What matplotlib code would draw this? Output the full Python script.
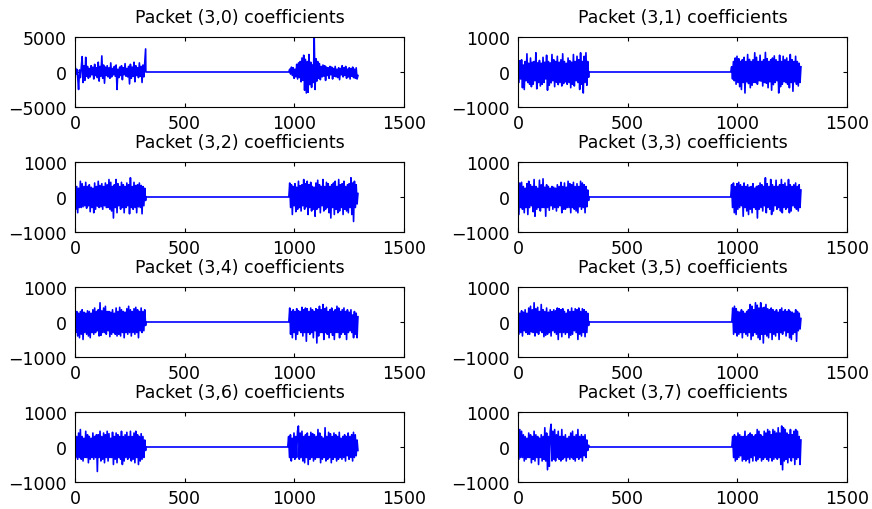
import numpy as np
import matplotlib
matplotlib.use("Agg")
import matplotlib.pyplot as plt

plt.rcParams['font.family'] = ['DejaVu Sans']

# panel titles, in subplot order
titles = ['Packet (3,0) coefficients', 'Packet (3,1) coefficients',
          'Packet (3,2) coefficients', 'Packet (3,3) coefficients',
          'Packet (3,4) coefficients', 'Packet (3,5) coefficients',
          'Packet (3,6) coefficients', 'Packet (3,7) coefficients']

# sample ranges of the two non-zero bursts
burst_a = [(0, 322)] * 8
burst_b = [(975, 1290), (970, 1290), (975, 1290), (970, 1290),
           (975, 1290), (975, 1290), (970, 1290), (975, 1290)]

# coefficient values, roughly sampled across each burst
a0 = [1200, -300, 400, -700, -2500, 300, -800, 600, 2200, -1500, 900, -1200, 2100, -600, 800, -900,
      500, -700, 900, -400, 700, -1000, 1100, -500, 600, -800, 1400, -1300, 800, -600, 2300, -900,
      1000, -1600, 700, -500, 900, -700, 600, -900, 1300, -700, 500, -400, 800, -600, 1000, -2500,
      400, -800, 700, -500, 900, -1100, 600, -400, 1200, -600, 500, -700, 800, -1700, 1100, -900,
      700, -600, 1400, -1400, 900, -500, 600, -800, 1300, -600, 800, -1500, 1000, -700, 1300, 3300]
b0 = [0, 400, -300, 700, -500, 600, -900, 400, -700, 1100, -1000, 1300, -800, 1500, -1400, 2000,
      -1200, 2400, -2600, 1800, -3000, 1500, -2900, 2500, -1800, 1400, -2200, 1000, -1500, 5000, -2500, 1900,
      -1300, 1500, -900, 1200, -1100, 800, -700, 1000, -600, 900, -1200, 700, -500, 600, -900, 800,
      -400, 700, -1000, 500, -600, 800, -700, 400, -800, 600, -1100, 500, -400, 900, -700, 600,
      -500, 800, -900, 400, -700, 600, -1000, 500, -600, 700, -800, 400, -900, 600, -1000, -500]

a1 = [250, -300, 320, -200, 350, -450, 200, -500, 300, -250, 520, -300, 250, -350, 400, -420,
      280, -350, 300, -250, 550, -480, 260, -300, 330, -400, 250, -350, 420, -300, 280, -200,
      480, -520, 300, -380, 260, -310, 500, -250, 350, -420, 300, -290, 450, -360, 280, -300,
      350, -400, 520, -330, 300, -280, 250, -350, 400, -300, 320, -450, 280, -350, 500, -400,
      300, -250, 450, -300, 350, -500, 550, -350, 300, -600, 450, -300, 550, -380, 300, -150]
b1 = [0, 150, -200, 300, -250, 400, -350, 450, -300, 380, -420, 300, -500, 350, -300, 420,
      -600, 300, -280, 500, -330, 360, -450, 300, -380, 350, -300, 550, -300, 420, -350, 300,
      -250, 480, -260, 300, -400, 350, -300, 560, -320, 380, -450, 300, -280, 350, -520, 400,
      -360, 460, -300, 350, -250, 300, -600, 480, -420, 300, -350, 450, -280, 350, -300, 400,
      -350, 300, -450, 500, -300, 350, -550, 300, -280, 450, -350, 300, -400, 250, -300, 150]

a2 = [400, -350, 300, -450, 250, -300, 450, -300, 380, -280, 300, -250, 420, -320, 300, -250,
      350, -420, 280, -300, 250, -450, 400, -350, 300, -260, 450, -300, 330, -280, 380, -350,
      300, -250, 400, -300, 350, -300, 500, -350, 420, -400, 300, -600, 350, -300, 500, -450,
      380, -250, 300, -350, 420, -300, 350, -450, 300, -300, 400, -250, 350, -480, 550, -300,
      300, -350, 420, -300, 330, -450, 350, -280, 400, -300, 330, -480, 300, -250, 250, -100]
b2 = [0, 400, -300, 350, -500, 300, -250, 380, -420, 280, -350, 450, -300, 320, -400, 350,
      -250, 500, -350, 380, -280, 450, -500, 350, -300, 420, -400, 300, -350, 280, -550, 400,
      -350, 480, -300, 350, -450, 300, -250, 500, -400, 300, -350, 420, -300, 380, -450, 300,
      -600, 350, -300, 400, -500, 450, -350, 300, -450, 500, -400, 350, -300, 380, -500, 450,
      -350, 300, -400, 350, -450, 380, -300, 550, -500, 400, -700, 450, -300, 350, -200, 100]

a3 = [450, -500, 400, -300, 420, -350, 300, -450, 250, -300, 380, -500, 450, -300, 350, -250,
      300, -420, 500, -550, 300, -350, 250, -300, 480, -400, 350, -300, 520, -300, 280, -550,
      350, -300, 300, -380, 250, -250, 300, -350, 280, -300, 250, -400, 350, -300, 300, -250,
      420, -450, 300, -350, 400, -350, 280, -300, 450, -300, 380, -450, 350, -300, 420, -350,
      300, -400, 380, -450, 300, -280, 450, -350, 400, -300, 350, -450, 300, -280, 200, -100]
b3 = [0, 350, -300, 400, -450, 300, -500, 380, -350, 420, -300, 350, -250, 300, -550, 400,
      -300, 300, -400, 350, -500, 280, -350, 300, -450, 380, -300, 250, -350, 300, -600, 320,
      -350, 400, -300, 350, -400, 300, -250, 550, -450, 380, -300, 300, -350, 500, -500, 350,
      -400, 300, -250, 480, -350, 300, -300, 350, -400, 500, -450, 350, -300, 400, -350, 300,
      -300, 500, -450, 350, -400, 300, -250, 350, -300, 400, -350, 300, -400, 350, -300, 200]

a4 = [400, -300, 300, -400, 250, -450, 300, -350, 350, -500, 280, -300, 250, -350, 320, -400,
      300, -450, 250, -300, 350, -350, 400, -300, 300, -250, 350, -400, 550, -380, 320, -300,
      400, -300, 450, -350, 300, -250, 300, -420, 280, -350, 350, -300, 250, -350, 400, -400,
      300, -350, 420, -400, 350, -300, 300, -450, 280, -300, 380, -350, 450, -300, 350, -400,
      300, -300, 380, -350, 420, -300, 350, -450, 300, -250, 400, -300, 300, -250, 350, -100]
b4 = [0, 400, -350, 300, -450, 350, -300, 300, -500, 380, -350, 320, -250, 300, -300, 420,
      -400, 350, -300, 400, -550, 380, -300, 300, -350, 400, -300, 350, -450, 300, -250, 380,
      -600, 350, -400, 450, -300, 350, -300, 500, -500, 380, -300, 420, -350, 300, -450, 350,
      -300, 400, -380, 300, -500, 350, -300, 450, -300, 400, -450, 300, -350, 350, -300, 400,
      -350, 300, -500, 350, -300, 280, -250, 350, -300, 200, -450, 300, -350, 250, -450, 150]

a5 = [300, -350, 250, -300, 320, -400, 280, -250, 350, -300, 250, -350, 400, -350, 450, -280,
      350, -300, 550, -400, 380, -300, 420, -350, 300, -250, 500, -300, 350, -420, 300, -380,
      400, -350, 280, -300, 350, -400, 300, -250, 350, -300, 320, -350, 400, -500, 380, -300,
      350, -420, 380, -300, 300, -350, 250, -300, 350, -450, 300, -380, 400, -350, 300, -250,
      380, -300, 350, -500, 400, -350, 300, -400, 380, -300, 350, -420, 300, -300, 250, -100]
b5 = [0, 400, -350, 450, -300, 380, -400, 300, -350, 280, -300, 350, -450, 300, -300, 250,
      -350, 300, -400, 350, -300, 500, -500, 450, -400, 350, -300, 550, -350, 480, -450, 400,
      -500, 550, -350, 400, -600, 420, -350, 500, -400, 380, -450, 350, -300, 400, -500, 350,
      -350, 300, -400, 350, -300, 280, -500, 350, -300, 400, -350, 300, -250, 350, -400, 300,
      -300, 350, -450, 300, -500, 280, -350, 250, -300, 350, -550, 300, -250, 250, -200, 100]

a6 = [350, -300, 300, -350, 400, -300, 500, -350, 300, -400, 250, -300, 450, -300, 350, -450,
      300, -350, 250, -300, 400, -350, 300, -300, 350, -700, 350, -300, 450, -400, 300, -350,
      400, -450, 350, -300, 450, -400, 380, -300, 250, -300, 420, -500, 300, -350, 400, -450,
      350, -300, 300, -350, 450, -500, 300, -400, 350, -300, 420, -350, 300, -300, 450, -400,
      300, -350, 400, -450, 450, -300, 350, -500, 300, -400, 380, -350, 300, -300, 200, -100]
b6 = [0, 300, -300, 350, -400, 250, -300, 400, -350, 300, -300, 450, 600, -350, 400, -300,
      450, -400, 300, -450, 350, -300, 400, -500, 300, -350, 420, -300, 380, -400, 350, -350,
      300, -300, 500, -300, 400, -450, 300, -350, 250, -300, 550, -400, 300, -350, 420, -300,
      380, -450, 300, -350, 400, -300, 350, -400, 300, -350, 420, -300, 250, -350, 300, -300,
      350, -400, 300, -250, 400, -350, 300, -300, 350, -400, 420, -300, 350, -250, 200, -100]

a7 = [400, -350, 500, -300, 450, -300, 350, -400, 300, -350, 250, -300, 400, -300, 350, -450,
      300, -350, 450, -400, 350, -300, 300, -500, 250, -300, 350, -400, 300, -350, 550, -400,
      400, -650, 300, -550, 450, 650, -400, 450, -350, 500, -400, 350, -300, 450, -350, 300,
      -400, 500, -350, 300, -300, 350, -400, 250, -300, 300, -350, 400, -300, 450, -350, 300,
      -400, 350, -300, 500, -350, 300, -300, 350, -400, 300, -250, 350, -300, 200, -100, 50]
b7 = [0, 300, -300, 350, -400, 300, -350, 400, -300, 350, -250, 300, -400, 300, -350, 450,
      -400, 300, -350, 350, -450, 400, -300, 350, -400, 300, -250, 350, -400, 500, -350, 450,
      -300, 350, -400, 300, -350, 450, -300, 400, -350, 500, -400, 450, -300, 350, -400, 500,
      -350, 450, -300, 400, -350, 550, -300, 400, -500, 600, -650, 550, -400, 500, -350, 400,
      -450, 350, -300, 500, -400, 350, -300, 450, -500, 500, -350, 450, -300, 300, -500, 200]

bursts_a = [a0, a1, a2, a3, a4, a5, a6, a7]
bursts_b = [b0, b1, b2, b3, b4, b5, b6, b7]
ylims = [5000, 1000, 1000, 1000, 1000, 1000, 1000, 1000]

fig = plt.figure(figsize=(8.72, 5.10), dpi=100)
W, H = 872.0, 510.0
col_left = [75, 518]
col_width = 329
row_top = [38, 163, 288, 413]
row_height = 70

for i in range(8):
    r, c = divmod(i, 2)
    ax = fig.add_axes([col_left[c] / W, 1 - (row_top[r] + row_height) / H,
                       col_width / W, row_height / H])
    ya = np.array(bursts_a[i], dtype=float)
    yb = np.array(bursts_b[i], dtype=float)
    xa = np.linspace(burst_a[i][0], burst_a[i][1], len(ya))
    xb = np.linspace(burst_b[i][0], burst_b[i][1], len(yb))
    # flat zero stretch between the two bursts
    x = np.concatenate([xa, [burst_a[i][1] + 1, burst_b[i][0] - 1], xb])
    y = np.concatenate([ya, [0, 0], yb])
    ax.plot(x, y, color='#0000ff', lw=1.2)

    lim = ylims[i]
    ax.set_xlim(0, 1500)
    ax.set_ylim(-lim, lim)
    ax.set_xticks([0, 500, 1000, 1500])
    ax.set_yticks([-lim, 0, lim])
    ax.tick_params(direction='in', top=True, right=True, length=3,
                   labelsize=12.5, width=0.8)
    ax.tick_params(axis='y', pad=6)
    ax.tick_params(axis='x', pad=5)
    for s in ax.spines.values():
        s.set_linewidth(0.8)
    ax.set_title(titles[i], fontsize=12.5, pad=11)

fig.savefig('out.png', dpi=100)
